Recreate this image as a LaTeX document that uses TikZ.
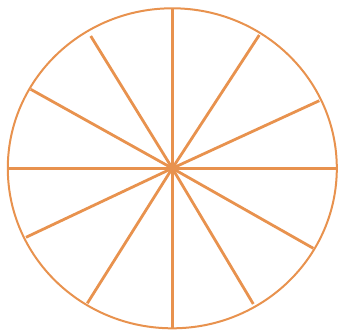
\documentclass[tikz,border=0pt]{standalone}
\definecolor{spokeorange}{RGB}{232,146,78}
\tikzset{
  rim/.style={draw=spokeorange, line width=2pt},
  spoke/.style={draw=spokeorange, line width=2.8pt}
}
\begin{document}
\begin{tikzpicture}[x=1pt,y=-1pt]
\useasboundingbox (0,0) rectangle (339,329);
\coordinate (c) at (172.3,168.3);
\draw[rim] (c) ellipse [x radius=164.5, y radius=160];
\coordinate (p1) at (172.3,8.3);
\coordinate (p2) at (259.3,35);
\coordinate (p3) at (319.3,100.7);
\coordinate (p4) at (336.8,168.3);
\coordinate (p5) at (313.3,248.3);
\coordinate (p6) at (253.3,304);
\coordinate (p7) at (172.3,328.3);
\coordinate (p8) at (87.3,303.3);
\coordinate (p9) at (26,237.3);
\coordinate (p10) at (7.8,168.3);
\coordinate (p11) at (30.7,89.3);
\coordinate (p12) at (90.7,36);
\foreach \i in {1,...,12} \draw[spoke] (c) -- (p\i);
\end{tikzpicture}
\end{document}
